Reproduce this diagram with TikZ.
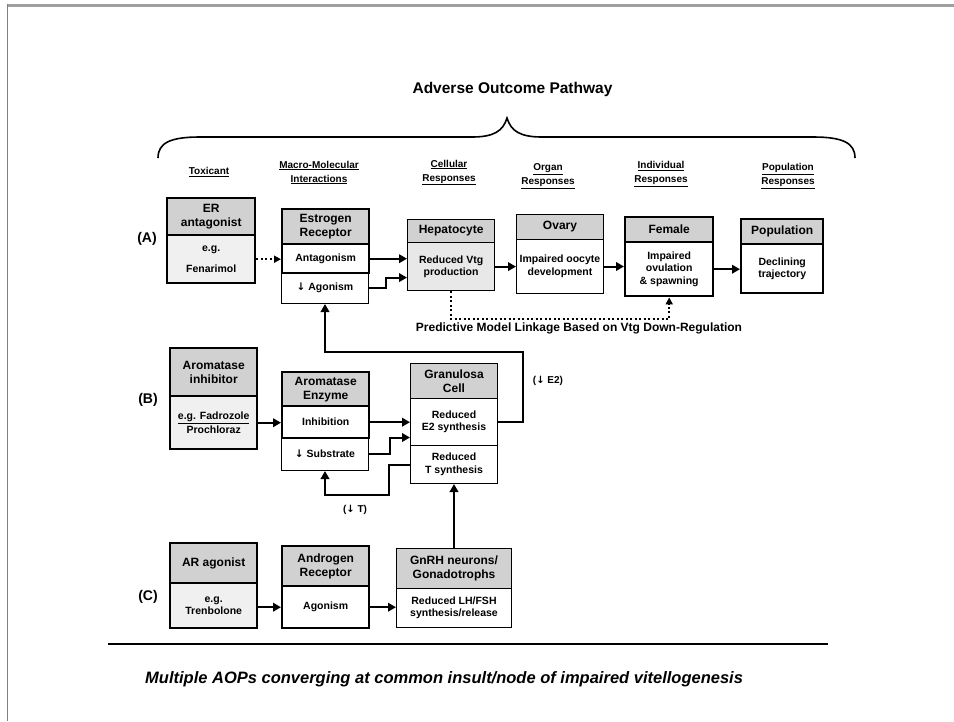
\documentclass[tikz,border=0pt]{standalone}
\usepackage{fontspec}
\setmainfont{Liberation Sans}
\newfontfamily\arrfont{DejaVu Sans}
\usetikzlibrary{arrows.meta,calc}
\definecolor{hdr}{gray}{0.82}
\definecolor{lite}{gray}{0.94}
\definecolor{lite2}{gray}{0.91}
\newcommand{\dn}{{\arrfont\bfseries ↓}}
\newcommand{\mkbox}[7]{\node[#6, minimum width={(#4-#2)*1pt}, minimum height={(#5-#3)*1pt}] (#1) at (#2,#3) {#7};}
\begin{document}
\begin{tikzpicture}[x=1pt,y=-1pt,
  part/.style={draw=black, line width=1pt, inner sep=0pt, align=center, anchor=north west, fill=white,
    font=\bfseries\fontsize{10.5}{12.5}\selectfont},
  hpart/.style={part, fill=hdr, font=\bfseries\fontsize{12}{14}\selectfont},
  tk/.style={line width=2.4pt},
  conn/.style={line width=2pt, -{Triangle[length=8pt,width=8.5pt]}},
  dotconn/.style={line width=2pt, dash pattern=on 2pt off 2.5pt, -{Triangle[length=7pt,width=7pt]}},
  colhd/.style={align=center, inner sep=0pt, font=\bfseries\fontsize{10}{14}\selectfont},
  rowlbl/.style={inner sep=0pt, font=\bfseries\fontsize{14}{16}\selectfont},
  lbl/.style={inner sep=0pt, font=\bfseries\fontsize{10}{12}\selectfont}]
\useasboundingbox (0,0) rectangle (954,721);
% frame remnants
\fill[gray!75] (7,4) rectangle (954,7);
\draw[gray, line width=1pt] (7.5,4) -- (7.5,721);
% title and brace
\node[inner sep=0pt, font=\bfseries\fontsize{15.5}{18}\selectfont] (title) at (512.5,89) {Adverse Outcome Pathway};
\draw[line width=1.6pt] (158,158) .. controls (158,143) and (170,137) .. (200,137) -- (472,137)
  .. controls (494,137) and (503,131) .. (507,118) .. controls (511,131) and (520,137) .. (542,137)
  -- (813,137) .. controls (843,137) and (855,143) .. (855,158);
% column headers
\node[colhd] (h1) at (209,172) {\underline{Toxicant}};
\node[colhd] (h2) at (319,172.5) {\underline{Macro-Molecular}\\\underline{Interactions}};
\node[colhd] (h3) at (449,172.5) {\underline{Cellular}\\\underline{Responses}};
\node[colhd] (h4) at (548,176) {\underline{Organ}\\\underline{Responses}};
\node[colhd] (h5) at (661,174) {\underline{Individual}\\\underline{Responses}};
\node[colhd] (h6) at (788,176) {\underline{Population}\\\underline{Responses}};
% row labels
\node[rowlbl] (la) at (147,239) {(A)};
\node[rowlbl] (lb) at (148,400) {(B)};
\node[rowlbl] (lc) at (148,597) {(C)};
% ---------- Row A
\mkbox{ERantH}{166}{197}{254}{234}{hpart,tk}{ER\\antagonist}
\mkbox{ERantB}{166}{234}{254}{282}{part,tk,fill=lite}{e.g.\\[9pt]Fenarimol}
\mkbox{ERB2}{281}{272}{368}{303}{part}{\dn\ Agonism}
\mkbox{ERH}{281}{208}{368}{243}{hpart,tk}{Estrogen\\Receptor}
\mkbox{ERB1}{281}{243}{368}{272}{part,tk}{Antagonism}
\mkbox{HepH}{407}{219}{494}{242}{hpart,line width=1.2pt}{Hepatocyte}
\mkbox{HepB}{407}{242}{494}{290}{part,line width=1.2pt,fill=lite2}{Reduced Vtg\\production}
\mkbox{OvH}{516}{214}{603}{239}{hpart}{Ovary}
\mkbox{OvB}{516}{239}{603}{293}{part}{Impaired oocyte\\development}
\mkbox{FemH}{624}{216}{712}{241}{hpart,tk}{Female}
\mkbox{FemB}{624}{241}{712}{295}{part,tk}{Impaired\\ovulation\\\& spawning}
\mkbox{PopH}{740}{218}{822}{243}{hpart,tk}{Population}
\mkbox{PopB}{740}{243}{822}{292}{part,tk}{Declining\\trajectory}
% ---------- Row B
\mkbox{AIH}{169}{347}{256}{395}{hpart,tk}{Aromatase\\inhibitor}
\mkbox{AIB}{169}{395}{256}{448}{part,tk,fill=lite}{\underline{e.g. Fadrozole}\\[1.5pt]Prochloraz}
\mkbox{AEB2}{281}{437}{368}{470}{part}{\dn\ Substrate}
\mkbox{AEH}{281}{371}{368}{405}{hpart,tk}{Aromatase\\Enzyme}
\mkbox{AEB1}{281}{405}{368}{437}{part,tk}{Inhibition}
\mkbox{GCH}{410}{363}{497}{398}{hpart}{Granulosa\\Cell}
\mkbox{GCB1}{410}{398}{497}{445}{part}{Reduced\\E2 synthesis}
\mkbox{GCB2}{410}{445}{497}{483}{part}{Reduced\\T synthesis}
% ---------- Row C
\mkbox{ARH}{169}{542}{256}{582}{hpart,tk}{AR agonist}
\mkbox{ARB}{169}{582}{256}{627}{part,tk,fill=lite}{e.g.\\Trenbolone}
\mkbox{ANH}{281}{545}{368}{585}{hpart,tk}{Androgen\\Receptor}
\mkbox{ANB}{281}{585}{368}{627}{part,tk}{Agonism}
\mkbox{GnH}{396}{548}{511}{588}{hpart}{GnRH neurons/\\Gonadotrophs}
\mkbox{GnB}{396}{588}{511}{627}{part}{Reduced LH/FSH\\synthesis/release}
% ---------- connectors row A
\draw[dotconn] (ERantB.east) -- (ERantB.east -| ERB1.west);
\draw[conn] (ERB1.east) -- (ERB1.east -| HepB.west);
\draw[conn] (ERB2.east) -- ++(17,0) |- ($(HepB.west)+(0,11)$);
\draw[conn] (HepB.east) -- (HepB.east -| OvB.west);
\draw[conn] (OvB.east) -- (OvB.east -| FemB.west);
\draw[conn] (FemB.east) -- (FemB.east -| PopB.west);
\draw[dotconn] (HepB.south) -- ++(0,28) -| (FemB.south);
\node[inner sep=0pt, font=\bfseries\fontsize{12}{14}\selectfont] (pml) at (579,328) {Predictive Model Linkage Based on Vtg Down-Regulation};
% ---------- connectors row B
\draw[conn] (AIB.east) -- (AIB.east -| AEB1.west);
\draw[conn] (AEB1.east) -- (AEB1.east -| GCB1.west);
\draw[conn] (AEB2.east) -- ++(21,0) |- ($(GCB1.west)+(0,15.5)$);
\draw[conn] (GCB2.west) -- ++(-21,0) -- ++(0,30) -| (AEB2.south);
\draw[conn] (GCB1.east) -- ++(25,0) |- ($(ERB2.south)+(0,48)$) -- (ERB2.south);
\node[lbl] (le2) at (548,381) {(\dn\ E2)};
\node[lbl] (lt) at (355,510) {(\dn\ T)};
% ---------- connectors row C
\draw[conn] (ANB.west -| ARB.east) -- (ANB.west);
\draw[conn] (ANB.east) -- (ANB.east -| GnB.west);
\draw[conn] (GnH.north) -- (GCB2.south);
% ---------- bottom rule and caption
\coordinate (rl1) at (108,644);
\coordinate (rl2) at (828,644);
\draw[line width=1.6pt] (rl1) -- (rl2);
\node[anchor=west, inner sep=0pt, font=\bfseries\itshape\fontsize{16.5}{19}\selectfont] (cap) at (145,679) {Multiple AOPs converging at common insult/node of impaired vitellogenesis};
\end{tikzpicture}
\end{document}
